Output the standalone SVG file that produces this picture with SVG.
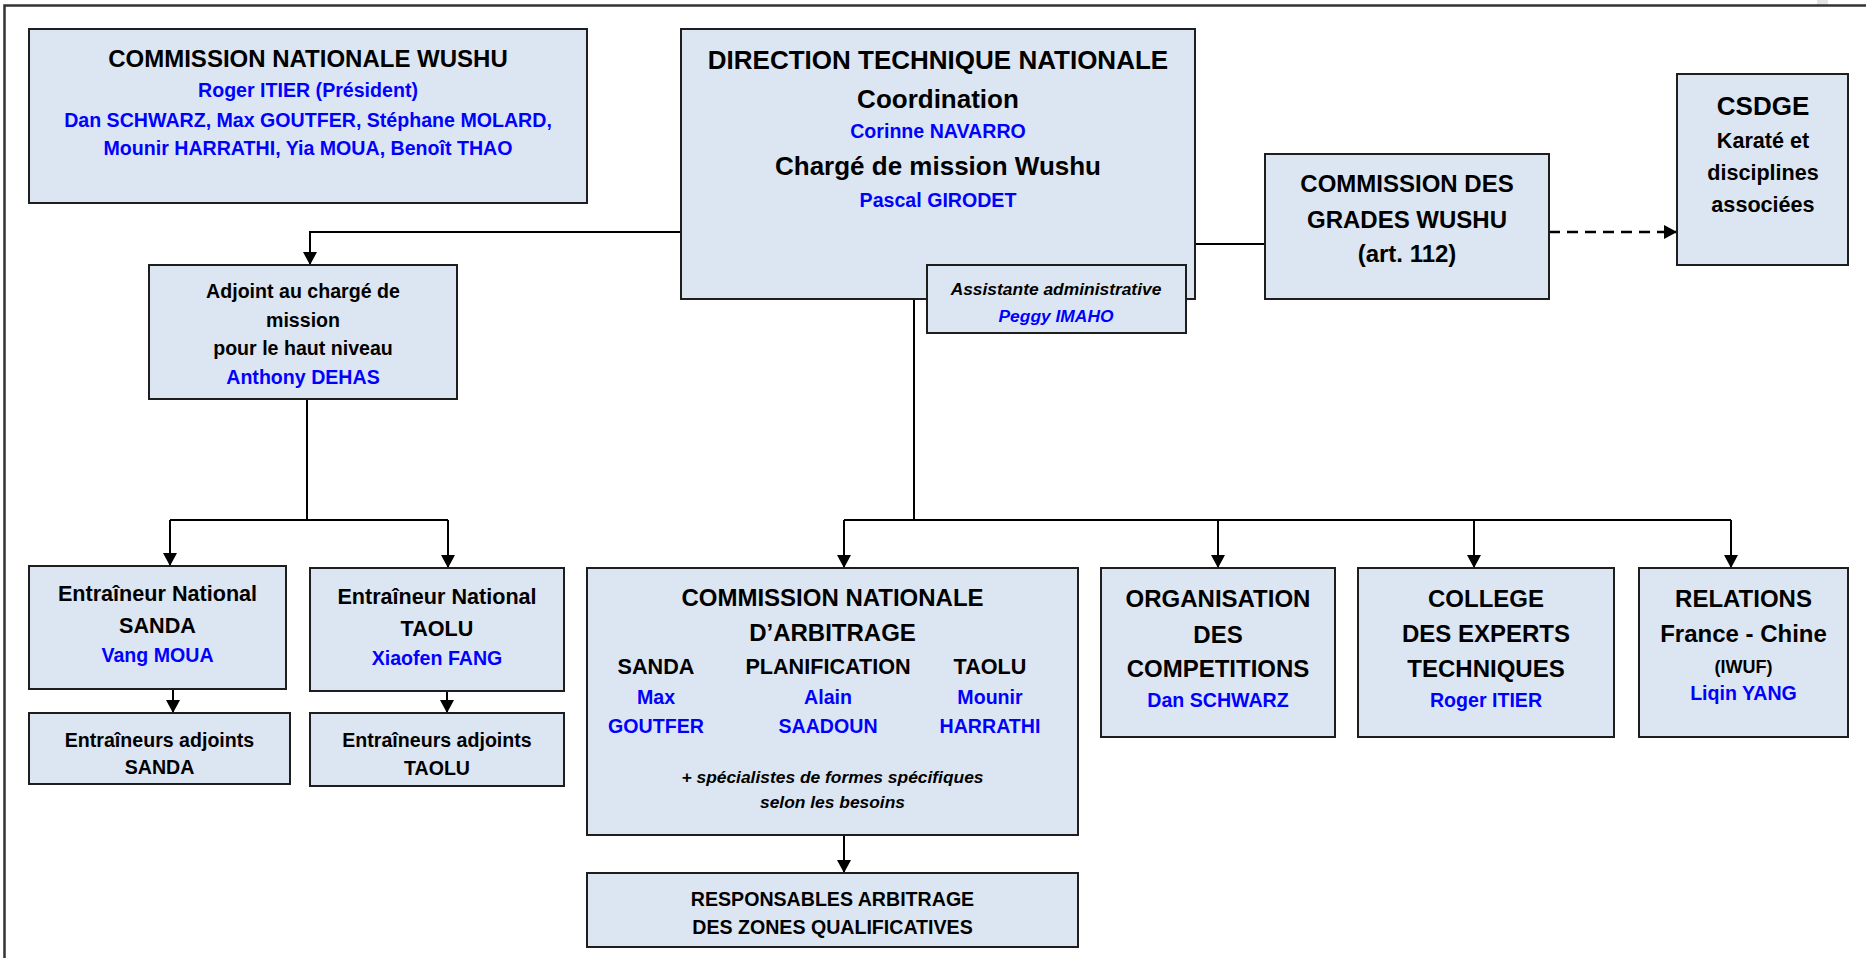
<svg xmlns="http://www.w3.org/2000/svg" width="1866" height="958" viewBox="0 0 1866 958">
<style>
  .box { fill: #dce6f2; stroke: #1e1e1e; stroke-width: 2; }
  .t { font-family: "Liberation Sans", Arial, sans-serif; font-weight: bold; fill: #000; text-anchor: middle; }
  .b { fill: #0000ff; }
  .i { font-style: italic; }
  .ln { fill: none; stroke: #000; stroke-width: 2; }
  .dash { fill: none; stroke: #000; stroke-width: 2.5; stroke-dasharray: 11 7; }
  .frame { fill: none; stroke: #333; stroke-width: 2.5; }
  .s24 { font-size: 24px; } .s26 { font-size: 26px; } .s21 { font-size: 21.6px; }
  .s20 { font-size: 19.6px; } .s17 { font-size: 17.4px; } .s18 { font-size: 18px; }
</style>
<defs>
  <marker id="arr" viewBox="0 0 13 14" refX="13" refY="7" markerWidth="13" markerHeight="14" markerUnits="userSpaceOnUse" orient="auto">
    <path d="M0,0 L13,7 L0,14 z" fill="#000"/>
  </marker>
</defs>
<rect x="0" y="0" width="1866" height="958" fill="#fff"/>
<rect x="1817" y="0" width="11" height="5" fill="#e4e4e4"/>
<path class="frame" d="M4.5,958 V5.5 H1866"/>

<g id="connectors">
  <path class="ln" d="M681,232 H310 V265" marker-end="url(#arr)"/>
  <path class="ln" d="M1195,244 H1265"/>
  <path class="dash" d="M1549,232 H1677" marker-end="url(#arr)"/>
  <path class="ln" d="M307,399 V520"/>
  <path class="ln" d="M170,520 H448"/>
  <path class="ln" d="M170,520 V566" marker-end="url(#arr)"/>
  <path class="ln" d="M448,520 V568" marker-end="url(#arr)"/>
  <path class="ln" d="M173,689 V713" marker-end="url(#arr)"/>
  <path class="ln" d="M447,691 V713" marker-end="url(#arr)"/>
  <path class="ln" d="M914,299 V520"/>
  <path class="ln" d="M844,520 H1731"/>
  <path class="ln" d="M844,520 V568" marker-end="url(#arr)"/>
  <path class="ln" d="M1218,520 V568" marker-end="url(#arr)"/>
  <path class="ln" d="M1474,520 V568" marker-end="url(#arr)"/>
  <path class="ln" d="M1731,520 V568" marker-end="url(#arr)"/>
  <path class="ln" d="M844,835 V873" marker-end="url(#arr)"/>
</g>

<g id="cnw">
  <rect class="box" x="29" y="29" width="558" height="174"/>
  <text class="t s24" x="308" y="67">COMMISSION NATIONALE WUSHU</text>
  <text class="t s20 b" x="308" y="97">Roger ITIER (Président)</text>
  <text class="t s20 b" x="308" y="127">Dan SCHWARZ, Max GOUTFER, Stéphane MOLARD,</text>
  <text class="t s20 b" x="308" y="155">Mounir HARRATHI, Yia MOUA, Benoît THAO</text>
</g>

<g id="dtn">
  <rect class="box" x="681" y="29" width="514" height="270"/>
  <text class="t s26" x="938" y="69">DIRECTION TECHNIQUE NATIONALE</text>
  <text class="t s26" x="938" y="108">Coordination</text>
  <text class="t s20 b" x="938" y="138">Corinne NAVARRO</text>
  <text class="t s26" x="938" y="175">Chargé de mission Wushu</text>
  <text class="t s20 b" x="938" y="207">Pascal GIRODET</text>
</g>

<g id="assistante">
  <rect class="box" x="927" y="265" width="259" height="68"/>
  <text class="t s17 i" x="1056" y="295">Assistante administrative</text>
  <text class="t s17 i b" x="1056" y="322">Peggy IMAHO</text>
</g>

<g id="grades">
  <rect class="box" x="1265" y="154" width="284" height="145"/>
  <text class="t s24" x="1407" y="192">COMMISSION DES</text>
  <text class="t s24" x="1407" y="228">GRADES WUSHU</text>
  <text class="t s24" x="1407" y="262">(art. 112)</text>
</g>

<g id="csdge">
  <rect class="box" x="1677" y="74" width="171" height="191"/>
  <text class="t s26" x="1763" y="115">CSDGE</text>
  <text class="t s21" x="1763" y="148">Karaté et</text>
  <text class="t s21" x="1763" y="180">disciplines</text>
  <text class="t s21" x="1763" y="212">associées</text>
</g>

<g id="adjoint">
  <rect class="box" x="149" y="265" width="308" height="134"/>
  <text class="t s20" x="303" y="298">Adjoint au chargé de</text>
  <text class="t s20" x="303" y="327">mission</text>
  <text class="t s20" x="303" y="355">pour le haut niveau</text>
  <text class="t s20 b" x="303" y="384">Anthony DEHAS</text>
</g>

<g id="entr-sanda">
  <rect class="box" x="29" y="566" width="257" height="123"/>
  <text class="t s21" x="157.5" y="601">Entraîneur National</text>
  <text class="t s21" x="157.5" y="633">SANDA</text>
  <text class="t s20 b" x="157.5" y="662">Vang MOUA</text>
</g>

<g id="entr-taolu">
  <rect class="box" x="310" y="568" width="254" height="123"/>
  <text class="t s21" x="437" y="604">Entraîneur National</text>
  <text class="t s21" x="437" y="636">TAOLU</text>
  <text class="t s20 b" x="437" y="665">Xiaofen FANG</text>
</g>

<g id="adj-sanda">
  <rect class="box" x="29" y="713" width="261" height="71"/>
  <text class="t s20" x="159.5" y="747">Entraîneurs adjoints</text>
  <text class="t s20" x="159.5" y="774">SANDA</text>
</g>

<g id="adj-taolu">
  <rect class="box" x="310" y="713" width="254" height="73"/>
  <text class="t s20" x="437" y="747">Entraîneurs adjoints</text>
  <text class="t s20" x="437" y="775">TAOLU</text>
</g>

<g id="cna">
  <rect class="box" x="587" y="568" width="491" height="267"/>
  <text class="t s24" x="832.5" y="606">COMMISSION NATIONALE</text>
  <text class="t s24" x="832.5" y="641">D’ARBITRAGE</text>
  <text class="t s21" x="656" y="674">SANDA</text>
  <text class="t s21" x="828" y="674">PLANIFICATION</text>
  <text class="t s21" x="990" y="674">TAOLU</text>
  <text class="t s20 b" x="656" y="704">Max</text>
  <text class="t s20 b" x="656" y="733">GOUTFER</text>
  <text class="t s20 b" x="828" y="704">Alain</text>
  <text class="t s20 b" x="828" y="733">SAADOUN</text>
  <text class="t s20 b" x="990" y="704">Mounir</text>
  <text class="t s20 b" x="990" y="733">HARRATHI</text>
  <text class="t s17 i" x="832.5" y="783">+ spécialistes de formes spécifiques</text>
  <text class="t s17 i" x="832.5" y="808">selon les besoins</text>
</g>

<g id="resp">
  <rect class="box" x="587" y="873" width="491" height="74"/>
  <text class="t s20" x="832.5" y="906">RESPONSABLES ARBITRAGE</text>
  <text class="t s20" x="832.5" y="934">DES ZONES QUALIFICATIVES</text>
</g>

<g id="organisation">
  <rect class="box" x="1101" y="568" width="234" height="169"/>
  <text class="t s24" x="1218" y="607">ORGANISATION</text>
  <text class="t s24" x="1218" y="643">DES</text>
  <text class="t s24" x="1218" y="677">COMPETITIONS</text>
  <text class="t s20 b" x="1218" y="707">Dan SCHWARZ</text>
</g>

<g id="college">
  <rect class="box" x="1358" y="568" width="256" height="169"/>
  <text class="t s24" x="1486" y="607">COLLEGE</text>
  <text class="t s24" x="1486" y="642">DES EXPERTS</text>
  <text class="t s24" x="1486" y="677">TECHNIQUES</text>
  <text class="t s20 b" x="1486" y="707">Roger ITIER</text>
</g>

<g id="relations">
  <rect class="box" x="1639" y="568" width="209" height="169"/>
  <text class="t s24" x="1743.5" y="607">RELATIONS</text>
  <text class="t s24" x="1743.5" y="642">France - Chine</text>
  <text class="t s18" x="1743.5" y="673">(IWUF)</text>
  <text class="t s20 b" x="1743.5" y="700">Liqin YANG</text>
</g>
</svg>
